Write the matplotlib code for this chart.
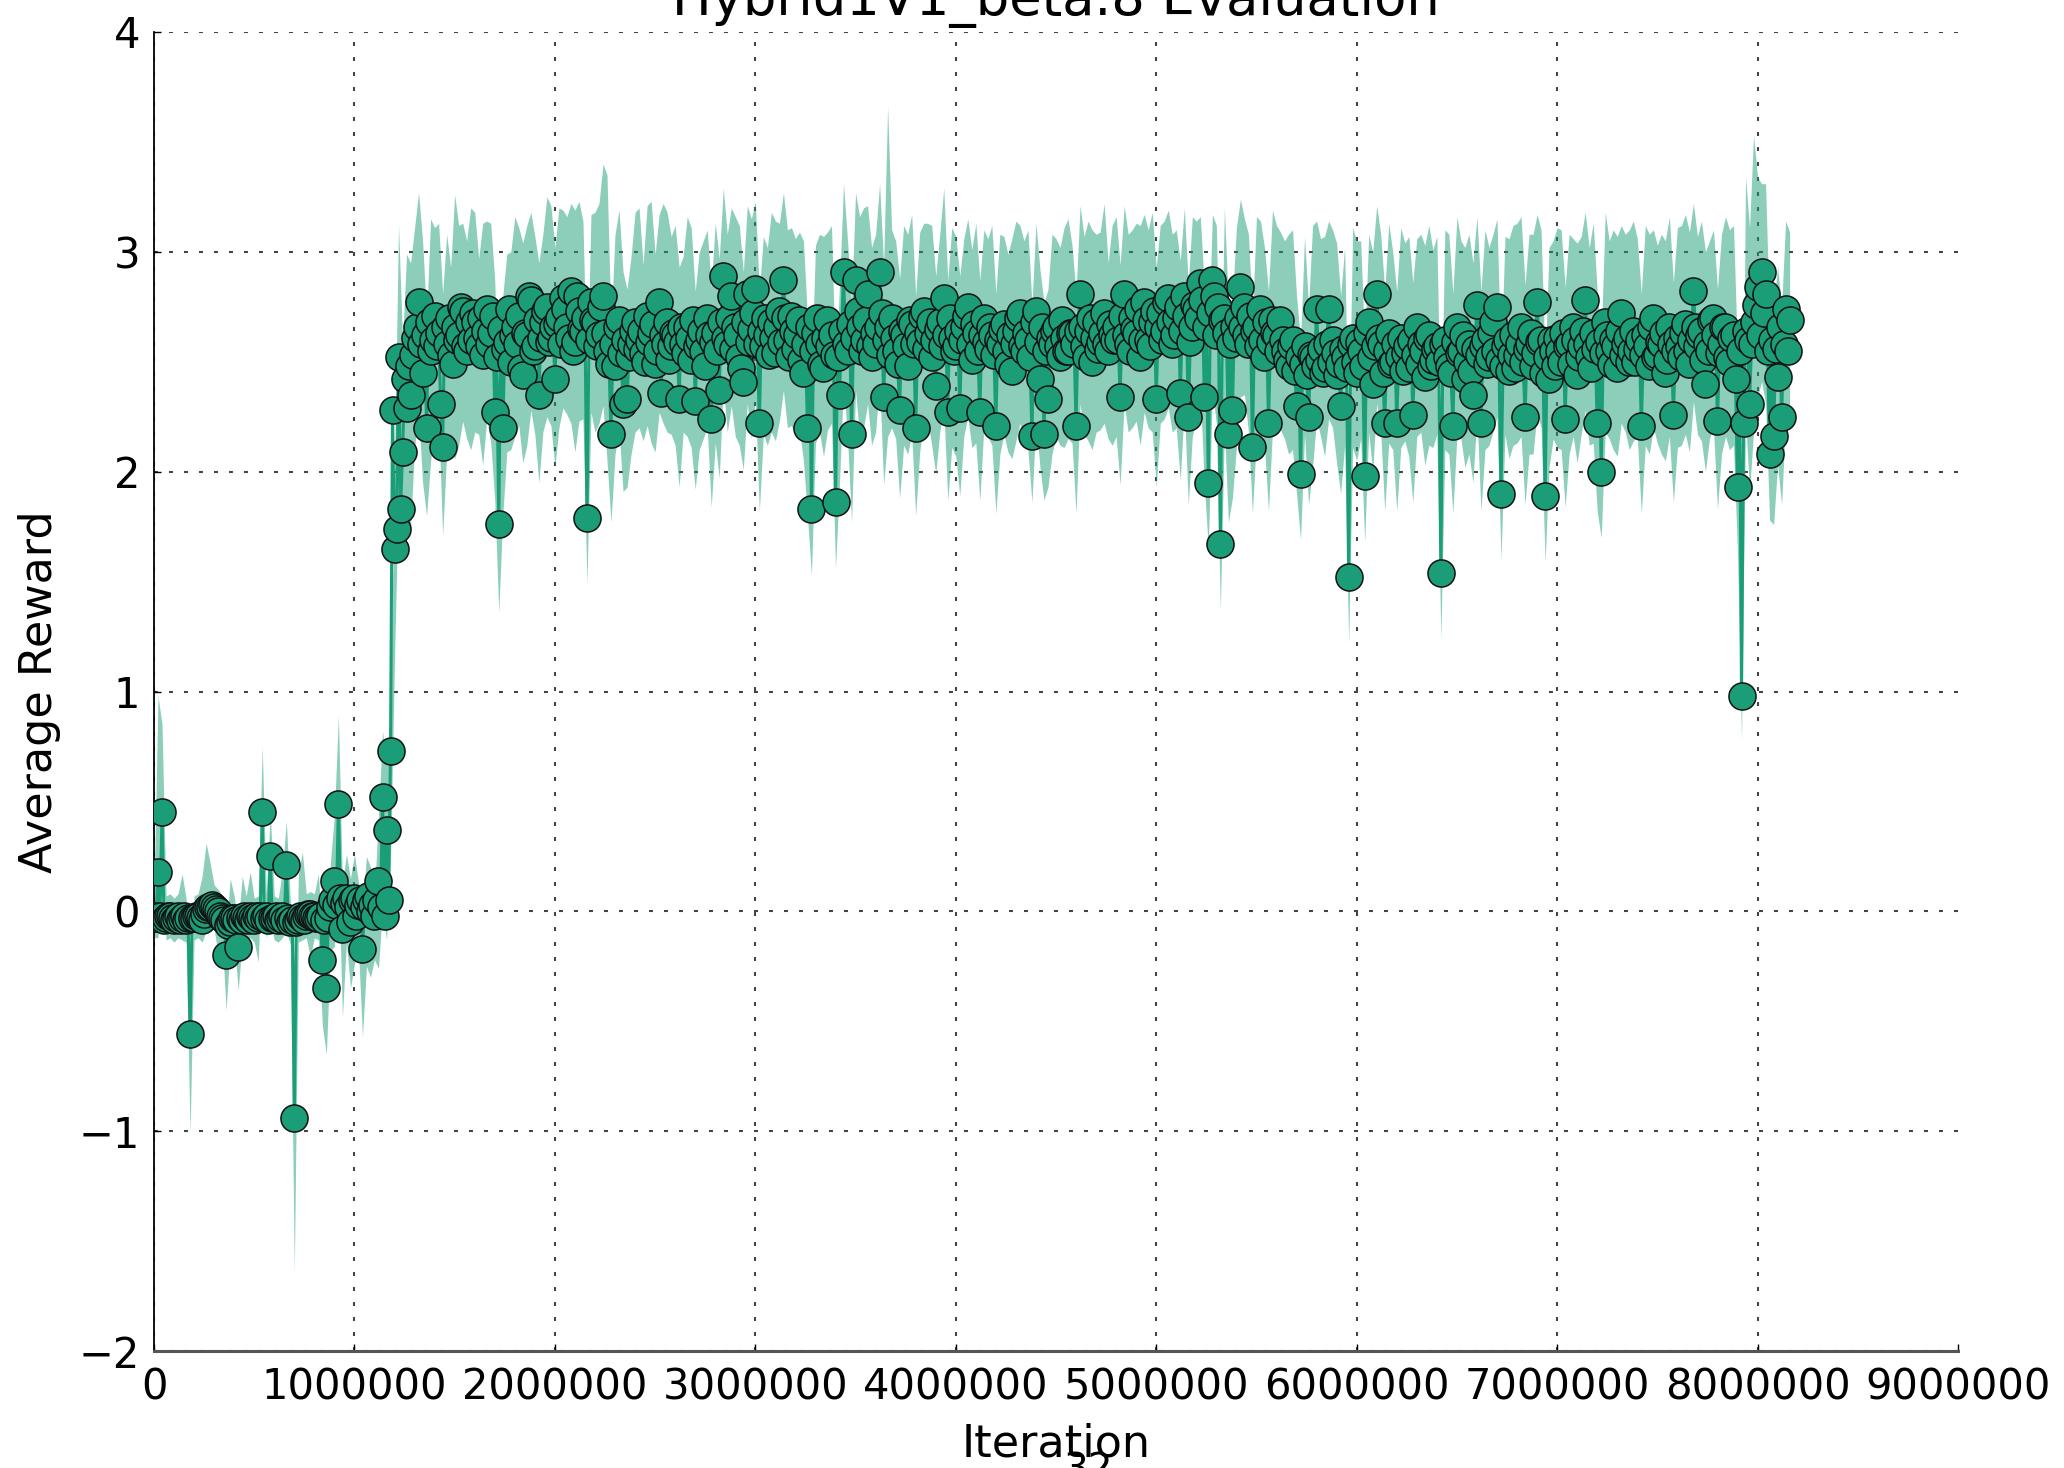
import numpy as np
import matplotlib
matplotlib.use("Agg")
import matplotlib.pyplot as plt
from matplotlib.ticker import FixedLocator, FormatStrFormatter

# ---------------- data ----------------
eval_every = 10000   # iterations between evaluation points
band_every = 20000   # resolution of the confidence band

mean_reward = [
    # 0.0 - 0.2 M
    -0.02, -0.03, 0.18, -0.02, 0.45, -0.04, -0.03, -0.02, -0.02, -0.03,
    -0.04, -0.03, -0.02, -0.04, -0.03, -0.02, -0.04, -0.03, -0.56, -0.03,
    -0.03, -0.02, -0.02, -0.03, -0.04, -0.01, 0.01, 0.02, 0.02, 0.03,
    0.02, 0.01, 0.00, -0.02, -0.03, -0.04, -0.20, -0.06, -0.05, -0.03,
    -0.03, -0.04, -0.16, -0.03, -0.04, -0.02, -0.03, -0.04, -0.02, -0.03,
    -0.04, -0.02, -0.03, -0.02, 0.45, -0.03, -0.02, -0.04, 0.25, -0.03,
    -0.03, -0.02, -0.04, -0.03, -0.02, -0.04, 0.21, -0.03, -0.05, -0.04,
    -0.94, -0.05, -0.04, -0.02, -0.03, -0.04, -0.02, -0.01, -0.01, -0.02,
    -0.02, -0.03, -0.03, -0.02, -0.22, -0.04, -0.35, -0.03, 0.02, 0.05,
    0.14, 0.03, 0.49, 0.06, -0.08, 0.04, 0.06, 0.02, -0.05, 0.05,
    0.06, -0.02, 0.03, 0.05, -0.17, 0.02, 0.05, 0.07, 0.00, 0.03,
    -0.02, 0.05, 0.14, 0.02, 0.52, -0.02, 0.37, 0.05, 0.73, 2.28,
    # 1.2 M
    1.65, 1.74, 2.52, 1.83, 2.09, 2.42, 2.29, 2.48, 2.35, 2.53,
    2.61, 2.66, 2.77, 2.58, 2.45, 2.62, 2.20, 2.68, 2.55, 2.60,
    2.71, 2.57, 2.63, 2.31, 2.11, 2.66, 2.58, 2.70, 2.53, 2.49,
    2.66, 2.60, 2.62, 2.75, 2.73, 2.57, 2.55, 2.68, 2.60, 2.72,
    2.68, 2.61, 2.57, 2.70, 2.53, 2.64, 2.74, 2.58, 2.63, 2.71,
    2.27, 2.52, 1.76, 2.65, 2.20, 2.56, 2.59, 2.74, 2.50, 2.62,
    2.66, 2.58, 2.71, 2.47, 2.44, 2.63, 2.62, 2.80, 2.78, 2.55,
    2.57, 2.69, 2.35, 2.61, 2.68, 2.73, 2.75, 2.59, 2.61, 2.66,
    # 2.0 M
    2.42, 2.67, 2.70, 2.58, 2.79, 2.74, 2.66, 2.61, 2.82, 2.55,
    2.59, 2.80, 2.73, 2.65, 2.64, 2.70, 1.79, 2.60, 2.77, 2.69,
    2.68, 2.57, 2.62, 2.75, 2.80, 2.63, 2.55, 2.49, 2.17, 2.58,
    2.48, 2.66, 2.69, 2.54, 2.31, 2.60, 2.33, 2.52, 2.58, 2.64,
    2.68, 2.56, 2.60, 2.64, 2.54, 2.50, 2.71, 2.59, 2.63, 2.67,
    2.49, 2.55, 2.77, 2.36, 2.62, 2.58, 2.68, 2.51, 2.57, 2.63,
    2.62, 2.59, 2.33, 2.66, 2.58, 2.54, 2.66, 2.61, 2.51, 2.69,
    2.32, 2.57, 2.60, 2.64, 2.55, 2.48, 2.70, 2.62, 2.24, 2.59,
    2.63, 2.55, 2.37, 2.68, 2.89, 2.61, 2.58, 2.70, 2.80, 2.56,
    2.66, 2.62, 2.52, 2.47, 2.41, 2.68, 2.81, 2.59, 2.65, 2.72,
    # 3.0 M
    2.83, 2.58, 2.22, 2.64, 2.57, 2.70, 2.62, 2.53, 2.68, 2.61,
    2.54, 2.66, 2.73, 2.59, 2.87, 2.70, 2.60, 2.52, 2.71, 2.64,
    2.56, 2.62, 2.69, 2.51, 2.45, 2.58, 2.20, 2.66, 1.83, 2.55,
    2.63, 2.70, 2.58, 2.49, 2.47, 2.61, 2.69, 2.57, 2.62, 2.53,
    1.86, 2.52, 2.35, 2.64, 2.91, 2.58, 2.55, 2.67, 2.17, 2.61,
    2.87, 2.73, 2.66, 2.55, 2.60, 2.69, 2.81, 2.57, 2.52, 2.63,
    2.58, 2.66, 2.91, 2.72, 2.34, 2.60, 2.66, 2.53, 2.70, 2.61,
    2.55, 2.49, 2.28, 2.64, 2.62, 2.57, 2.48, 2.69, 2.67, 2.58,
    2.20, 2.63, 2.59, 2.71, 2.73, 2.56, 2.63, 2.68, 2.52, 2.60,
    2.39, 2.65, 2.68, 2.57, 2.79, 2.62, 2.27, 2.70, 2.61, 2.55,
    # 4.0 M
    2.57, 2.64, 2.29, 2.60, 2.66, 2.71, 2.75, 2.58, 2.51, 2.67,
    2.63, 2.55, 2.27, 2.62, 2.70, 2.59, 2.56, 2.66, 2.62, 2.53,
    2.21, 2.60, 2.58, 2.65, 2.67, 2.55, 2.49, 2.62, 2.46, 2.58,
    2.64, 2.70, 2.72, 2.57, 2.55, 2.63, 2.60, 2.52, 2.16, 2.68,
    2.73, 2.59, 2.42, 2.66, 2.17, 2.55, 2.33, 2.61, 2.58, 2.64,
    2.66, 2.57, 2.52, 2.69, 2.61, 2.55, 2.55, 2.63, 2.63, 2.58,
    2.21, 2.64, 2.81, 2.66, 2.57, 2.52, 2.64, 2.70, 2.50, 2.61,
    2.68, 2.56, 2.59, 2.63, 2.72, 2.58, 2.55, 2.67, 2.62, 2.60,
    2.66, 2.60, 2.34, 2.71, 2.81, 2.62, 2.58, 2.55, 2.70, 2.65,
    2.63, 2.74, 2.52, 2.60, 2.77, 2.69, 2.60, 2.57, 2.68, 2.73,
    # 5.0 M
    2.33, 2.66, 2.72, 2.60, 2.64, 2.77, 2.79, 2.68, 2.58, 2.62,
    2.70, 2.75, 2.36, 2.64, 2.80, 2.71, 2.25, 2.59, 2.66, 2.76,
    2.74, 2.70, 2.86, 2.78, 2.34, 2.66, 1.95, 2.72, 2.87, 2.80,
    2.62, 2.75, 1.67, 2.69, 2.70, 2.63, 2.17, 2.58, 2.28, 2.66,
    2.61, 2.70, 2.84, 2.66, 2.75, 2.62, 2.58, 2.71, 2.11, 2.64,
    2.66, 2.57, 2.74, 2.60, 2.52, 2.68, 2.22, 2.59, 2.69, 2.63,
    2.62, 2.55, 2.69, 2.60, 2.55, 2.51, 2.48, 2.57, 2.60, 2.46,
    2.30, 2.52, 1.99, 2.49, 2.57, 2.44, 2.25, 2.53, 2.52, 2.48,
    2.74, 2.51, 2.56, 2.45, 2.47, 2.58, 2.74, 2.50, 2.60, 2.54,
    2.44, 2.49, 2.30, 2.56, 2.52, 2.47, 1.52, 2.58, 2.61, 2.50,
    # 6.0 M
    2.45, 2.59, 2.55, 2.48, 1.98, 2.63, 2.68, 2.52, 2.40, 2.57,
    2.81, 2.61, 2.58, 2.45, 2.22, 2.55, 2.63, 2.49, 2.50, 2.58,
    2.22, 2.52, 2.61, 2.46, 2.54, 2.57, 2.47, 2.60, 2.26, 2.53,
    2.66, 2.49, 2.58, 2.55, 2.43, 2.61, 2.62, 2.48, 2.51, 2.56,
    2.57, 2.50, 1.54, 2.58, 2.60, 2.52, 2.48, 2.45, 2.21, 2.59,
    2.66, 2.54, 2.55, 2.62, 2.42, 2.50, 2.58, 2.46, 2.35, 2.56,
    2.76, 2.53, 2.22, 2.57, 2.60, 2.49, 2.52, 2.63, 2.68, 2.55,
    2.75, 2.51, 1.90, 2.48, 2.57, 2.60, 2.46, 2.53, 2.62, 2.47,
    2.53, 2.58, 2.66, 2.50, 2.25, 2.56, 2.58, 2.63, 2.48, 2.54,
    2.77, 2.59, 2.60, 2.45, 1.89, 2.52, 2.42, 2.60, 2.55, 2.48,
    # 7.0 M
    2.61, 2.55, 2.50, 2.63, 2.24, 2.57, 2.58, 2.49, 2.66, 2.60,
    2.44, 2.52, 2.57, 2.64, 2.78, 2.58, 2.52, 2.47, 2.63, 2.56,
    2.22, 2.59, 2.00, 2.54, 2.68, 2.62, 2.55, 2.49, 2.60, 2.57,
    2.47, 2.64, 2.72, 2.53, 2.58, 2.61, 2.50, 2.55, 2.64, 2.50,
    2.56, 2.60, 2.21, 2.53, 2.62, 2.57, 2.48, 2.66, 2.70, 2.52,
    2.53, 2.59, 2.58, 2.63, 2.45, 2.51, 2.66, 2.58, 2.26, 2.55,
    2.61, 2.57, 2.52, 2.63, 2.67, 2.55, 2.49, 2.60, 2.82, 2.66,
    2.57, 2.62, 2.64, 2.51, 2.40, 2.58, 2.55, 2.69, 2.70, 2.62,
    2.23, 2.54, 2.58, 2.66, 2.66, 2.52, 2.50, 2.61, 2.62, 2.42,
    1.93, 2.55, 0.98, 2.22, 2.64, 2.60, 2.31, 2.58, 2.68, 2.76,
    # 8.0 M
    2.84, 2.62, 2.91, 2.72, 2.81, 2.55, 2.08, 2.60, 2.16, 2.56,
    2.43, 2.66, 2.25, 2.58, 2.74, 2.55, 2.69,
]

# distance from the mean to the top of the shaded band (every 20000 iterations)
band_up = [
    .1, .8, .4, .1, .1, .1, .1, .2, .1, .1,
    .1, .1, .2, .3, .2, .1, .1, .1, .1, .2,
    .1, .1, .2, .1, .2, .1, .1, .3, .1, .2,
    .1, .1, .2, .2, .1, .1, .2, .3, .1, .1,
    .1, .2, .1, .1, .2, .3, .4, .2, .2, .2,
    .2, .1, .2, .2, .2, .1, .3, .3, .3, .2,
    .4, .6, .5, .7, .6, .5, .5, .6, .5, .6,
    .4, .5, .7, .5, .4, .6, .5, .4, .5, .6,
    .5, .4, .6, .4, .5, .6, .5, .6, .4, .5,
    .5, .4, .6, .5, .4, .5, .6, .4, .5, .6,
    .6, .5, .4, .5, .4, .6, .5, .5, .6, .4,
    .5, .6, .6, .8, .5, .6, .5, .6, .5, .4,
    .5, .6, .4, .5, .6, .5, .4, .6, .5, .5,
    .5, .6, .4, .5, .6, .5, .4, .5, .4, .6,
    .5, .6, .4, .5, .4, .5, .6, .5, .4, .5,
    .4, .6, .5, .4, .5, .6, .4, .4, .5, .4,
    .5, .4, .6, .5, .6, .4, .5, .6, .4, .5,
    .6, .5, .4, .5, .6, .4, .5, .6, .4, .5,
    .5, .4, .6, 1.0, .4, .5, .6, .5, .6, .5,
    .6, .5, .4, .5, .6, .5, .4, .5, .6, .5,
    .5, .6, .4, .4, .5, .5, .6, .4, .5, .5,
    .6, .5, .4, .5, .6, .5, .4, .5, .5, .6,
    .4, .5, .6, .5, .5, .4, .5, .5, .6, .4,
    .6, .4, .5, .5, .6, .4, .5, .5, .4, .5,
    .5, .6, .4, .5, .4, .5, .6, .4, .5, .5,
    .6, .4, .5, .4, .5, .4, .6, .4, .6, .5,
    .4, .3, .5, .6, .3, .5, .6, .5, .6, .5,
    .5, .4, .4, .5, .6, .5, .4, .5, .6, .5,
    .5, .4, .5, .6, .5, .5, .6, .5, .5, .6,
    .4, .5, .6, .4, .5, .6, .5, .5, .6, .5,
    .6, .5, .6, .4, .6, .4, .5, .6, .5, .5,
    .6, .5, .5, .6, .6, .4, .5, .6, .5, .5,
    .5, .6, .5, .6, .6, .5, .5, .6, .5, .6,
    .4, .6, .5, .5, .4, .4, .6, .5, .6, .5,
    .6, .5, .6, .5, .6, .4, .5, .6, .6, .5,
    .5, .6, .6, .5, .4, .6, .5, .4, .5, .5,
    .6, .6, .5, .5, .5, .6, .4, .5, .6, .5,
    .5, .6, .5, .6, .4, .5, .5, .6, .5, .6,
    .5, .6, .5, .6, .4, .5, .5, .6, .5, .4,
    .6, .5, .5, .6, .5, .6, .4, .7, .8, .85,
    .5, .4, .5, .6, .6, .5, .5, .4, .4,
]

# distance from the mean to the bottom of the shaded band (every 20000 iterations)
band_down = [
    .1, .3, .2, .1, .1, .1, .1, .1, .1, .45,
    .1, .1, .1, .1, .1, .1, .2, .1, .25, .1,
    .1, .2, .1, .1, .1, .1, .2, .2, .1, .3,
    .1, .1, .1, .3, .1, .7, .1, .1, .1, .2,
    .1, .1, .3, .3, .2, .3, .3, .4, .2, .3,
    .3, .2, .4, .3, .3, .2, .4, .5, .5, .5,
    .5, .6, .5, .5, .6, .5, .5, .5, .4, .5,
    .5, .4, .4, .5, .4, .6, .5, .5, .4, .5,
    .5, .4, .5, .5, .5, .4, .4, .4, .5, .4,
    .5, .5, .4, .5, .5, .4, .4, .5, .5, .4,
    .4, .5, .5, .4, .6, .5, .5, .4, .3, .5,
    .5, .4, .5, .5, .4, .4, .5, .4, .4, .5,
    .5, .4, .4, .5, .5, .4, .5, .4, .5, .4,
    .5, .4, .4, .5, .4, .4, .5, .4, .5, .4,
    .5, .4, .5, .4, .5, .5, .4, .4, .5, .5,
    .5, .4, .4, .5, .5, .4, .5, .5, .4, .5,
    .4, .5, .4, .4, .3, .5, .4, .4, .5, .4,
    .3, .4, .5, .4, .4, .5, .5, .4, .5, .4,
    .4, .5, .4, .5, .5, .4, .4, .5, .4, .5,
    .4, .5, .5, .4, .4, .4, .5, .5, .4, .5,
    .5, .4, .5, .5, .4, .5, .4, .5, .4, .5,
    .4, .5, .5, .4, .4, .5, .5, .4, .5, .3,
    .5, .4, .3, .4, .5, .5, .4, .5, .4, .5,
    .4, .5, .4, .5, .4, .5, .4, .5, .4, .5,
    .5, .4, .5, .4, .5, .4, .4, .5, .4, .5,
    .4, .5, .4, .5, .4, .5, .4, .5, .4, .5,
    .5, .5, .4, .3, .5, .4, .3, .5, .4, .4,
    .5, .5, .4, .4, .3, .5, .5, .4, .4, .5,
    .4, .5, .4, .4, .5, .4, .3, .4, .4, .5,
    .5, .4, .4, .5, .4, .4, .4, .4, .3, .5,
    .4, .4, .3, .5, .4, .5, .4, .4, .5, .4,
    .4, .5, .4, .4, .4, .5, .4, .4, .5, .4,
    .4, .3, .5, .4, .4, .5, .4, .4, .5, .4,
    .5, .4, .5, .4, .5, .5, .3, .4, .4, .5,
    .4, .5, .4, .5, .4, .5, .4, .3, .4, .4,
    .5, .4, .4, .5, .5, .4, .4, .5, .4, .5,
    .4, .3, .5, .4, .5, .4, .5, .4, .4, .5,
    .4, .4, .5, .4, .5, .4, .5, .4, .5, .4,
    .5, .4, .5, .4, .5, .4, .5, .4, .4, .5,
    .4, .5, .5, .4, .5, .3, .2, .4, .4, .5,
    .5, .5, .5, .3, .4, .4, .4, .5, .4,
]

x_ticks = [0, 1000000, 2000000, 3000000, 4000000, 5000000,
           6000000, 7000000, 8000000, 9000000]
y_ticks = [-2, -1, 0, 1, 2, 3, 4]

title_text = "Hybrid1V1_beta.8 Evaluation"
x_label = "Iteration"
y_label = "Average Reward"
page_number = "32"

# ---------------- drawing ----------------
color = "#1b9e77"
y = np.array(mean_reward)
iterations = np.arange(len(y)) * eval_every

band_center = y[::band_every // eval_every]
n_band = min(len(band_center), len(band_up), len(band_down))
band_center = band_center[:n_band]
band_x = np.arange(n_band) * band_every
upper = band_center + np.array(band_up[:n_band])
lower = band_center - np.array(band_down[:n_band])

W, H = 2064, 1468
fig = plt.figure(figsize=(W / 100, H / 100), dpi=100)
ax = fig.add_axes([154 / W, 1 - 1351 / H, (1958 - 154) / W, (1351 - 32) / H])

ax.fill_between(band_x, lower, upper, color=color, alpha=0.5,
                linewidth=0, zorder=2)
ax.plot(iterations, y, color=color, linewidth=2.2, marker="o",
        markersize=19.5, markerfacecolor=color, markeredgecolor="#111111",
        markeredgewidth=1.1, zorder=3)

ax.set_xlim(0, 9000000)
ax.set_ylim(-2, 4)
ax.xaxis.set_major_locator(FixedLocator(x_ticks))
ax.yaxis.set_major_locator(FixedLocator(y_ticks))
ax.xaxis.set_major_formatter(FormatStrFormatter("%d"))

ax.grid(True, color="#222222", linestyle=(0, (1.9, 5.3)), linewidth=1.5,
        alpha=0.85)
ax.set_axisbelow(True)
ax.get_xgridlines()[-1].set_visible(False)
for side in ("top", "right"):
    ax.spines[side].set_visible(False)
ax.spines["left"].set_linewidth(1.3)
ax.spines["bottom"].set_linewidth(2.2)
ax.spines["bottom"].set_color("#555555")

ax.tick_params(axis="both", direction="in", length=5, width=1,
               labelsize=30, colors="black")
ax.tick_params(axis="x", pad=11)
ax.tick_params(axis="y", pad=10)

ax.set_xlabel(x_label, fontsize=32, labelpad=10)
ax.set_ylabel(y_label, fontsize=32, labelpad=13)

fig.text(1056 / W, 1 - 15 / H, title_text, fontsize=38, ha="center",
         va="baseline")
fig.text(1088 / W, 1 - 1451 / H, page_number, fontsize=28, ha="center",
         va="top")

fig.savefig("out.png", dpi=100)
